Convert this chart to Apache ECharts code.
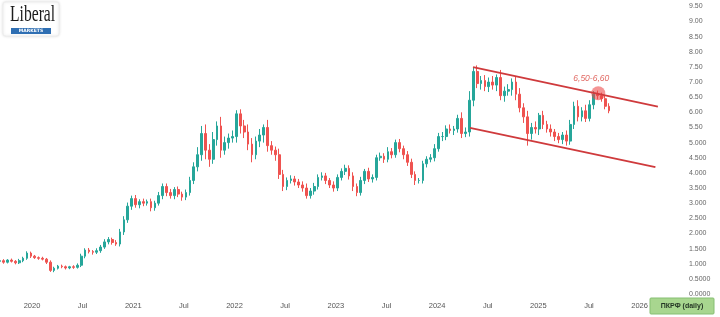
<!DOCTYPE html>
<html><head><meta charset="utf-8">
<script src="https://cdn.jsdelivr.net/npm/echarts@6/dist/echarts.min.js"></script>
<style>html,body{margin:0;padding:0;background:#fff}#c{width:720px;height:317px}</style>
</head><body><div id="c"></div>
<script>
// ---- data ----
const firstCandleDate = '2019-09-07';
const candleStepDays = 14;
const closes = [
1.10,1.05,1.12,1.08,1.03,1.10,1.18,1.35,1.25,1.20,
1.18,1.15,1.05,0.78,0.85,0.92,0.90,0.86,0.90,0.88,
0.95,1.25,1.45,1.40,1.38,1.43,1.55,1.72,1.80,1.70,
1.65,2.05,2.45,2.90,3.15,2.95,3.05,3.00,3.05,2.85,
3.00,3.25,3.55,3.35,3.25,3.45,3.30,3.20,3.35,3.75,
4.20,4.60,5.30,4.75,4.45,5.10,5.55,4.75,5.00,5.15,
5.20,5.95,5.55,5.35,4.95,4.60,5.05,5.25,5.50,4.90,
4.75,4.60,3.95,3.55,3.75,3.80,3.70,3.60,3.50,3.25,
3.40,3.55,3.85,3.90,3.75,3.60,3.50,3.85,4.05,4.15,
3.90,3.55,3.35,3.75,4.05,3.80,3.85,4.50,4.55,4.45,
4.70,4.60,5.00,4.80,4.60,4.35,3.95,3.75,3.75,4.30,
4.45,4.50,4.80,5.20,5.20,5.45,5.40,5.45,5.80,5.30,
5.35,6.40,7.35,6.95,7.05,6.85,7.00,6.90,7.15,6.55,
6.70,6.75,7.00,6.60,6.15,5.85,5.30,5.50,5.45,5.90,
5.60,5.45,5.35,5.20,5.10,5.25,5.05,5.60,6.20,5.85,
6.05,5.80,6.25,6.60,6.55,6.45,6.20,6.05
];
const firstOpen = 1.08;
const upperWick = [
0.04,0.05,0.03,0.05,0.04,0.06,0.05,0.06,0.05,0.04,
0.04,0.05,0.04,0.06,0.05,0.04,0.05,0.04,0.03,0.05,
0.06,0.08,0.06,0.07,0.05,0.08,0.07,0.09,0.08,0.06,
0.08,0.10,0.12,0.12,0.10,0.12,0.08,0.10,0.07,0.10,
0.08,0.12,0.10,0.10,0.12,0.08,0.10,0.08,0.10,0.12,
0.15,0.25,0.25,0.30,0.20,0.25,0.15,0.30,0.20,0.15,
0.20,0.12,0.15,0.20,0.25,0.20,0.15,0.20,0.10,0.25,
0.15,0.12,0.20,0.15,0.10,0.12,0.10,0.10,0.12,0.15,
0.10,0.12,0.10,0.12,0.10,0.08,0.12,0.10,0.10,0.12,
0.10,0.12,0.10,0.12,0.08,0.12,0.10,0.10,0.12,0.10,
0.15,0.12,0.10,0.12,0.10,0.12,0.12,0.10,0.08,0.10,
0.10,0.12,0.15,0.12,0.15,0.12,0.15,0.10,0.12,0.20,
0.15,0.30,0.12,0.20,0.15,0.18,0.15,0.20,0.10,0.25,
0.15,0.18,0.12,0.20,0.20,0.15,0.20,0.15,0.20,0.08,
0.15,0.12,0.15,0.10,0.12,0.10,0.15,0.15,0.15,0.20,
0.12,0.20,0.15,0.10,0.12,0.10,0.12,0.10
];
const lowerWick = [
0.04,0.05,0.04,0.04,0.05,0.04,0.05,0.05,0.06,0.04,
0.05,0.04,0.06,0.05,0.06,0.04,0.05,0.05,0.04,0.05,
0.04,0.06,0.07,0.06,0.08,0.06,0.07,0.06,0.08,0.07,
0.06,0.08,0.10,0.10,0.12,0.10,0.12,0.10,0.08,0.12,
0.10,0.08,0.12,0.12,0.10,0.12,0.10,0.12,0.10,0.10,
0.12,0.15,0.20,0.30,0.25,0.15,0.20,0.25,0.15,0.20,
0.15,0.20,0.25,0.20,0.20,0.25,0.15,0.20,0.25,0.20,
0.15,0.20,0.15,0.15,0.12,0.10,0.12,0.10,0.12,0.10,
0.10,0.12,0.10,0.10,0.12,0.10,0.12,0.10,0.10,0.12,
0.12,0.15,0.12,0.10,0.12,0.10,0.12,0.10,0.10,0.12,
0.10,0.12,0.10,0.12,0.15,0.12,0.12,0.15,0.10,0.10,
0.12,0.10,0.12,0.10,0.15,0.12,0.10,0.15,0.12,0.15,
0.12,0.15,0.20,0.15,0.20,0.15,0.18,0.15,0.20,0.15,
0.20,0.15,0.20,0.20,0.15,0.20,0.40,0.20,0.15,0.20,
0.15,0.12,0.15,0.15,0.12,0.15,0.15,0.12,0.15,0.15,
0.15,0.12,0.10,0.15,0.12,0.10,0.10,0.08
];
const channelUpper = [['2024-05-10', 7.49], ['2026-03-08', 6.19]];
const channelLower = [['2024-04-29', 5.49], ['2026-02-27', 4.19]];
const targetPoint = ['2025-08-05', 6.63];
const targetLabel = '6,50-6,60';
const xTickValues = [2020, 2020.5, 2021, 2021.5, 2022, 2022.5, 2023, 2023.5, 2024, 2024.5, 2025, 2025.5, 2026];
const xTickLabels = ['2020','Jul','2021','Jul','2022','Jul','2023','Jul','2024','Jul','2025','Jul','2026'];
const yTickValues = [0,0.5,1,1.5,2,2.5,3,3.5,4,4.5,5,5.5,6,6.5,7,7.5,8,8.5,9,9.5];
const yTickLabels = ['0.0000','0.5000','1.000','1.500','2.000','2.500','3.000','3.500','4.000','4.500','5.000','5.50','6.00','6.50','7.00','7.50','8.00','8.50','9.00','9.50'];
const tickerLabel = 'ПКРФ (daily)';

// ---- helpers ----
function fracYear(d) {
  const dt = (d instanceof Date) ? d : new Date(d + 'T00:00:00Z');
  const y = dt.getUTCFullYear();
  const s = Date.UTC(y, 0, 1), e = Date.UTC(y + 1, 0, 1);
  return y + (dt.getTime() - s) / (e - s);
}
const start = new Date(firstCandleDate + 'T00:00:00Z');
const candles = closes.map((c, i) => {
  const o = i === 0 ? firstOpen : closes[i - 1];
  const d = new Date(start.getTime() + i * candleStepDays * 86400000);
  return [fracYear(d), o, c, Math.min(o, c) - lowerWick[i], Math.max(o, c) + upperWick[i]];
});
function labelFor(vals, labels, v) {
  for (let i = 0; i < vals.length; i++) if (Math.abs(vals[i] - v) < 1e-6) return labels[i];
  return '';
}

const chart = echarts.init(document.getElementById('c'), null, {renderer: 'canvas'});
const font = 'Liberation Sans, Arial, sans-serif';
chart.setOption({
  animation: false,
  backgroundColor: '#ffffff',
  grid: {left: 0, right: 40, top: 0, bottom: 23, containLabel: false},
  xAxis: {
    type: 'value', min: 2019.684, max: 2026.399,
    axisLine: {show: false}, axisTick: {show: false, customValues: xTickValues}, splitLine: {show: false},
    axisLabel: {color: '#555', fontSize: 7.5, fontFamily: font, margin: 8, customValues: xTickValues,
      formatter: v => labelFor(xTickValues, xTickLabels, v)}
  },
  yAxis: {
    type: 'value', position: 'right', min: 0, max: 9.71, interval: 0.5,
    axisLine: {show: false}, axisTick: {show: false}, splitLine: {show: false},
    axisLabel: {color: '#666', fontSize: 7, fontFamily: font, margin: 9, align: 'left', showMaxLabel: false,
      formatter: v => labelFor(yTickValues, yTickLabels, v)}
  },
  series: [
    {
      type: 'candlestick', data: candles, barWidth: 2.2,
      itemStyle: {color: '#26a69a', color0: '#ef5350', borderColor: '#26a69a', borderColor0: '#ef5350', borderWidth: 1}
    },
    {
      type: 'line', data: channelUpper.map(p => [fracYear(p[0]), p[1]]), symbol: 'none',
      lineStyle: {color: '#cf3a3c', width: 1.8}
    },
    {
      type: 'line', data: channelLower.map(p => [fracYear(p[0]), p[1]]), symbol: 'none',
      lineStyle: {color: '#cf3a3c', width: 1.8}
    },
    {
      type: 'scatter', data: [[fracYear(targetPoint[0]), targetPoint[1]]], symbolSize: 14,
      itemStyle: {color: 'rgba(236,70,70,0.72)'},
      label: {show: true, position: 'top', distance: 3, offset: [-7, 0], formatter: targetLabel,
        color: '#d9443c', fontSize: 8.5, fontStyle: 'italic', fontFamily: font}
    }
  ],
  graphic: [
    {type: 'rect', shape: {x: 3, y: 2, width: 56, height: 34, r: 3}, style: {fill: '#fff', stroke: '#eeeeee', lineWidth: 1, shadowBlur: 3, shadowColor: 'rgba(0,0,0,0.12)'}},
    {type: 'text', x: 10, y: 3, scaleX: 0.68, style: {text: 'Liberal', font: '23px "Liberation Serif", "DejaVu Serif", serif', fill: '#1c1c1c'}},
    {type: 'rect', shape: {x: 11, y: 28, width: 40, height: 6}, style: {fill: '#2f6fb3'}},
    {type: 'text', x: 31, y: 31, style: {text: 'MARKETS', font: 'bold 4.5px "DejaVu Sans", sans-serif', fill: '#fff', align: 'center', verticalAlign: 'middle'}},
    {type: 'rect', shape: {x: 650, y: 298, width: 64, height: 16, r: 1}, style: {fill: '#a8d68f', stroke: '#86bf72', lineWidth: 1}},
    {type: 'text', x: 682, y: 306, style: {text: tickerLabel, font: 'bold 7px ' + font, fill: '#243524', align: 'center', verticalAlign: 'middle'}}
  ]
});
</script></body></html>
